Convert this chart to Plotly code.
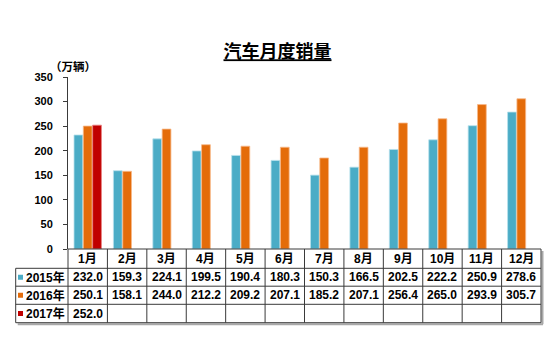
import plotly.graph_objects as go

# ---- data -------------------------------------------------------------
months = ["1月", "2月", "3月", "4月", "5月", "6月",
          "7月", "8月", "9月", "10月", "11月", "12月"]
sales_2015 = [232.0, 159.3, 224.1, 199.5, 190.4, 180.3,
              150.3, 166.5, 202.5, 222.2, 250.9, 278.6]
sales_2016 = [250.1, 158.1, 244.0, 212.2, 209.2, 207.1,
              185.2, 207.1, 256.4, 265.0, 293.9, 305.7]
sales_2017 = [252.0]
series_names = ["2015年", "2016年", "2017年"]
y_ticks = [0, 50, 100, 150, 200, 250, 300, 350]

# ---- style ------------------------------------------------------------
colors = ["#4BACC6", "#E46C0A", "#C00000"]
edge_colors = ["#B7E1EC", "#F7B98A", "#E88080"]
FONT = "Liberation Sans, Arial, Noto Sans CJK SC, sans-serif"
GRID = "#3A3A3A"
SHADOW = "#A8A8A8"

W, H = 555, 345
L, R, T, B = 68, 14, 77, 96          # plot area margins (px)
PW, PH = W - L - R, H - T - B        # plot area size (px)

def px_x(px):
    return (px - L) / PW

def px_y(py):
    return (H - B - py) / PH

n = len(months)
xs = list(range(n))

def col_edge(i):
    # paper x of the boundary left of category i
    return i / n

fig = go.Figure()
all_series = [sales_2015, sales_2016, sales_2017 + [None] * (n - len(sales_2017))]
for name, vals, c, ec in zip(series_names, all_series, colors, edge_colors):
    fig.add_trace(go.Bar(
        x=xs, y=vals, name=name,
        marker=dict(color=c, line=dict(color=ec, width=0.8)),
        showlegend=False,
    ))

# ---- data table under the axis ---------------------------------------
row_edges = [249, 268.3, 286.2, 304.3, 322.7]   # px, top to bottom
left_px = 15.7
shapes = []

def hline(x0, x1, py, color=GRID, width=1):
    shapes.append(dict(type="line", xref="paper", yref="paper",
                       x0=x0, x1=x1, y0=px_y(py), y1=px_y(py),
                       line=dict(color=color, width=width)))

def vline(px, py0, py1, color=GRID, width=1):
    shapes.append(dict(type="line", xref="paper", yref="paper",
                       x0=px, x1=px, y0=px_y(py0), y1=px_y(py1),
                       line=dict(color=color, width=width)))

# soft drop shadow on bottom and right edges
hline(px_x(left_px + 2), 1 + 2 / PW, row_edges[-1] + 1.5, SHADOW, 2)
vline(1 + 1.5 / PW, row_edges[0] + 2, row_edges[-1] + 1.5, SHADOW, 2)

hline(0, 1, row_edges[0])
for py in row_edges[1:]:
    hline(px_x(left_px), 1, py)
vline(px_x(left_px), row_edges[1], row_edges[-1])
for i in range(n + 1):
    vline(col_edge(i), row_edges[0], row_edges[-1])

annotations = []
row_centers = [(row_edges[k] + row_edges[k + 1]) / 2 for k in range(len(row_edges) - 1)]

# month header row
for i, m in enumerate(months):
    annotations.append(dict(x=i, y=px_y(row_centers[0]), xref="x", yref="paper",
                            text=m, showarrow=False, xanchor="center", yanchor="middle",
                            font=dict(family=FONT, size=12, color="#000", weight="bold")))

table_rows = [sales_2015, sales_2016, sales_2017]
for r, (name, vals, c) in enumerate(zip(series_names, table_rows, colors)):
    cy = row_centers[r + 1]
    shapes.append(dict(type="rect", xref="paper", yref="paper",
                       x0=px_x(18), x1=px_x(23), y0=px_y(cy + 2.5), y1=px_y(cy - 2.5),
                       fillcolor=c, line=dict(width=0)))
    annotations.append(dict(x=px_x(23.5), y=px_y(cy), xref="paper", yref="paper",
                            text=name, showarrow=False, xanchor="left", yanchor="middle",
                            font=dict(family=FONT, size=12, color="#000", weight="bold")))
    for i, v in enumerate(vals):
        annotations.append(dict(x=i, y=px_y(cy), xref="x", yref="paper",
                                text=f"{v:.1f}", showarrow=False,
                                xanchor="center", yanchor="middle",
                                font=dict(family=FONT, size=12, color="#000", weight="bold")))

# unit label above the value axis
annotations.append(dict(x=px_x(73), y=px_y(66.5), xref="paper", yref="paper",
                        text="（万辆）", showarrow=False, xanchor="center", yanchor="middle",
                        font=dict(family=FONT, size=11.5, color="#000", weight="bold")))

fig.update_layout(
    width=W, height=H, autosize=False,
    margin=dict(l=L, r=R, t=T, b=B, pad=0),
    paper_bgcolor="white", plot_bgcolor="white",
    barmode="group", bargap=0.29, bargroupgap=0.06,
    title=dict(text="<u>汽车月度销量</u>", x=277.5 / W, xanchor="center",
               y=1 - 52 / H, yanchor="middle",
               font=dict(family=FONT, size=18, color="#000", weight="bold")),
    xaxis=dict(range=[-0.5, n - 0.5], showticklabels=False, ticks="",
               showline=False, showgrid=False, zeroline=False, fixedrange=True),
    yaxis=dict(range=[0, 350], tickvals=y_ticks, showgrid=False, zeroline=False,
               showline=True, linecolor=GRID, linewidth=1,
               ticks="outside", ticklen=4, tickcolor=GRID,
               ticklabelstandoff=8,
               tickfont=dict(family=FONT, size=11, color="#000", weight="bold")),
    shapes=shapes, annotations=annotations,
)

fig.write_html("out.html")
